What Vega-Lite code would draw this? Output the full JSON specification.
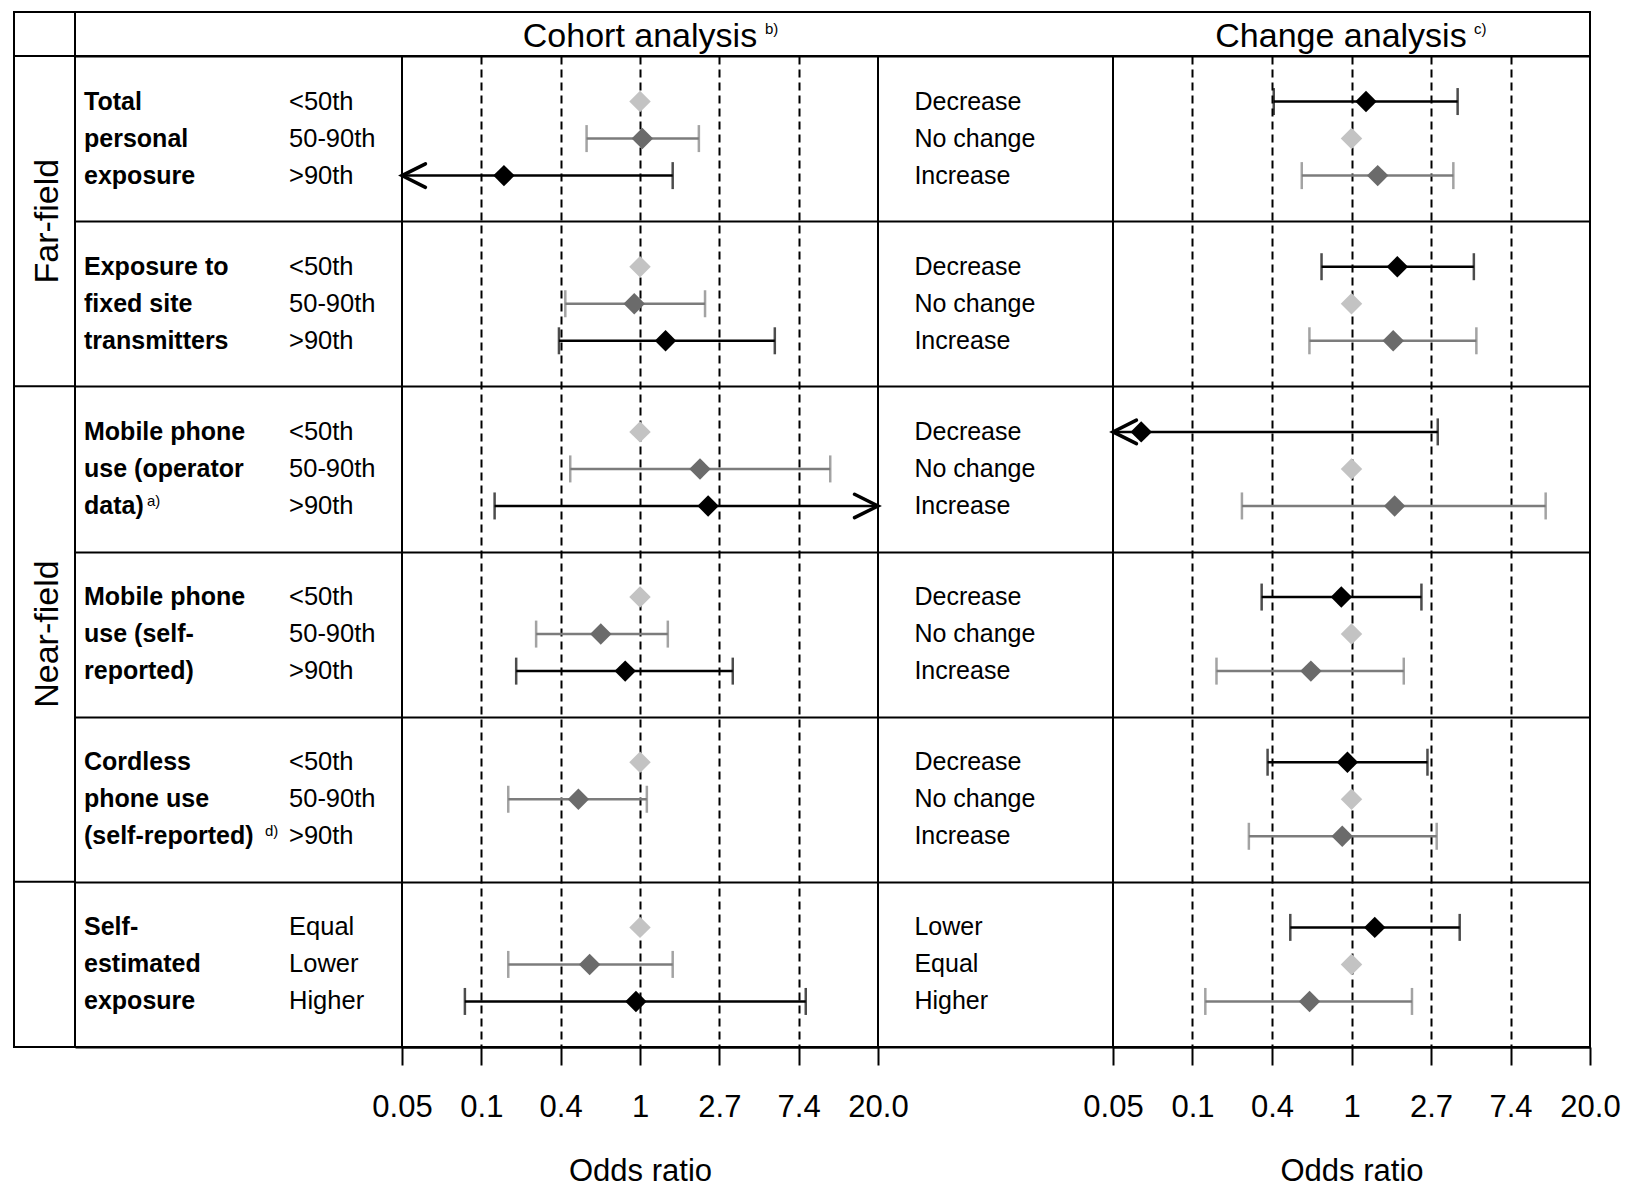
{
  "$schema": "https://vega.github.io/schema/vega-lite/v6.json",
  "background": "white",
  "padding": {"left": 12, "top": 10, "right": 0, "bottom": 0},
  "bounds": "flush",
  "spacing": 0,
  "config": {
    "view": {"stroke": "black", "strokeWidth": 2},
    "font": "Liberation Sans",
    "text": {"font": "Liberation Sans", "color": "black"},
    "axis": {"labelFont": "Liberation Sans", "titleFont": "Liberation Sans"},
    "concat": {"spacing": 0}
  },
  "datasets": {
    "names": [
      {"exposure": "Total personal exposure", "pos": 1, "text": "Total"},
      {"exposure": "Total personal exposure", "pos": 2, "text": "personal"},
      {"exposure": "Total personal exposure", "pos": 3, "text": "exposure"},
      {"exposure": "Exposure to fixed site transmitters", "pos": 1, "text": "Exposure to"},
      {"exposure": "Exposure to fixed site transmitters", "pos": 2, "text": "fixed site"},
      {"exposure": "Exposure to fixed site transmitters", "pos": 3, "text": "transmitters"},
      {"exposure": "Mobile phone use (operator data)", "pos": 1, "text": "Mobile phone"},
      {"exposure": "Mobile phone use (operator data)", "pos": 2, "text": "use (operator"},
      {"exposure": "Mobile phone use (operator data)", "pos": 3, "text": "data)", "sup": "a)"},
      {"exposure": "Mobile phone use (self-reported)", "pos": 1, "text": "Mobile phone"},
      {"exposure": "Mobile phone use (self-reported)", "pos": 2, "text": "use (self-"},
      {"exposure": "Mobile phone use (self-reported)", "pos": 3, "text": "reported)"},
      {"exposure": "Cordless phone use (self-reported)", "pos": 1, "text": "Cordless"},
      {"exposure": "Cordless phone use (self-reported)", "pos": 2, "text": "phone use"},
      {"exposure": "Cordless phone use (self-reported)", "pos": 3, "text": "(self-reported)", "sup": "d)"},
      {"exposure": "Self-estimated exposure", "pos": 1, "text": "Self-"},
      {"exposure": "Self-estimated exposure", "pos": 2, "text": "estimated"},
      {"exposure": "Self-estimated exposure", "pos": 3, "text": "exposure"}
    ],
    "cohort": [
      {"exposure": "Total personal exposure", "pos": 1, "category": "<50th", "group": "ref", "or": 1},
      {"exposure": "Total personal exposure", "pos": 2, "category": "50-90th", "group": "mid", "or": 1.03, "lo": 0.51, "hi": 2.1},
      {"exposure": "Total personal exposure", "pos": 3, "category": ">90th", "group": "high", "or": 0.18, "lo": 0.03, "hi": 1.51, "arrow": "left"},
      {"exposure": "Exposure to fixed site transmitters", "pos": 1, "category": "<50th", "group": "ref", "or": 1},
      {"exposure": "Exposure to fixed site transmitters", "pos": 2, "category": "50-90th", "group": "mid", "or": 0.93, "lo": 0.39, "hi": 2.27},
      {"exposure": "Exposure to fixed site transmitters", "pos": 3, "category": ">90th", "group": "high", "or": 1.38, "lo": 0.36, "hi": 5.47},
      {"exposure": "Mobile phone use (operator data)", "pos": 1, "category": "<50th", "group": "ref", "or": 1},
      {"exposure": "Mobile phone use (operator data)", "pos": 2, "category": "50-90th", "group": "mid", "or": 2.13, "lo": 0.415, "hi": 11.0},
      {"exposure": "Mobile phone use (operator data)", "pos": 3, "category": ">90th", "group": "high", "or": 2.36, "lo": 0.16, "hi": 30, "arrow": "right"},
      {"exposure": "Mobile phone use (self-reported)", "pos": 1, "category": "<50th", "group": "ref", "or": 1},
      {"exposure": "Mobile phone use (self-reported)", "pos": 2, "category": "50-90th", "group": "mid", "or": 0.61, "lo": 0.27, "hi": 1.42},
      {"exposure": "Mobile phone use (self-reported)", "pos": 3, "category": ">90th", "group": "high", "or": 0.83, "lo": 0.21, "hi": 3.22},
      {"exposure": "Cordless phone use (self-reported)", "pos": 1, "category": "<50th", "group": "ref", "or": 1},
      {"exposure": "Cordless phone use (self-reported)", "pos": 2, "category": "50-90th", "group": "mid", "or": 0.46, "lo": 0.19, "hi": 1.09},
      {"exposure": "Cordless phone use (self-reported)", "pos": 3, "category": ">90th", "group": "high"},
      {"exposure": "Self-estimated exposure", "pos": 1, "category": "Equal", "group": "ref", "or": 1},
      {"exposure": "Self-estimated exposure", "pos": 2, "category": "Lower", "group": "mid", "or": 0.53, "lo": 0.19, "hi": 1.51},
      {"exposure": "Self-estimated exposure", "pos": 3, "category": "Higher", "group": "high", "or": 0.95, "lo": 0.11, "hi": 8.08}
    ],
    "change": [
      {"exposure": "Total personal exposure", "pos": 1, "category": "Decrease", "group": "high", "or": 1.2, "lo": 0.376, "hi": 3.8},
      {"exposure": "Total personal exposure", "pos": 2, "category": "No change", "group": "ref", "or": 1},
      {"exposure": "Total personal exposure", "pos": 3, "category": "Increase", "group": "mid", "or": 1.39, "lo": 0.535, "hi": 3.6},
      {"exposure": "Exposure to fixed site transmitters", "pos": 1, "category": "Decrease", "group": "high", "or": 1.78, "lo": 0.686, "hi": 4.66},
      {"exposure": "Exposure to fixed site transmitters", "pos": 2, "category": "No change", "group": "ref", "or": 1},
      {"exposure": "Exposure to fixed site transmitters", "pos": 3, "category": "Increase", "group": "mid", "or": 1.69, "lo": 0.589, "hi": 4.81},
      {"exposure": "Mobile phone use (operator data)", "pos": 1, "category": "Decrease", "group": "high", "or": 0.071, "lo": 0.03, "hi": 2.96, "arrow": "left"},
      {"exposure": "Mobile phone use (operator data)", "pos": 2, "category": "No change", "group": "ref", "or": 1},
      {"exposure": "Mobile phone use (operator data)", "pos": 3, "category": "Increase", "group": "mid", "or": 1.72, "lo": 0.252, "hi": 11.5},
      {"exposure": "Mobile phone use (self-reported)", "pos": 1, "category": "Decrease", "group": "high", "or": 0.88, "lo": 0.323, "hi": 2.41},
      {"exposure": "Mobile phone use (self-reported)", "pos": 2, "category": "No change", "group": "ref", "or": 1},
      {"exposure": "Mobile phone use (self-reported)", "pos": 3, "category": "Increase", "group": "mid", "or": 0.6, "lo": 0.183, "hi": 1.93},
      {"exposure": "Cordless phone use (self-reported)", "pos": 1, "category": "Decrease", "group": "high", "or": 0.95, "lo": 0.348, "hi": 2.6},
      {"exposure": "Cordless phone use (self-reported)", "pos": 2, "category": "No change", "group": "ref", "or": 1},
      {"exposure": "Cordless phone use (self-reported)", "pos": 3, "category": "Increase", "group": "mid", "or": 0.89, "lo": 0.275, "hi": 2.92},
      {"exposure": "Self-estimated exposure", "pos": 1, "category": "Lower", "group": "high", "or": 1.34, "lo": 0.463, "hi": 3.9},
      {"exposure": "Self-estimated exposure", "pos": 2, "category": "Equal", "group": "ref", "or": 1},
      {"exposure": "Self-estimated exposure", "pos": 3, "category": "Higher", "group": "mid", "or": 0.59, "lo": 0.159, "hi": 2.14}
    ]
  },
  "vconcat": [
    {
      "width": 1576, "height": 44,
      "resolve": {"scale": {"x": "independent"}},
      "layer": [
        {
          "data": {"values": [{"sep": "s"}]},
          "mark": {"type": "rule", "strokeWidth": 2, "color": "black"},
          "encoding": {"x": {"field": "sep", "type": "nominal", "scale": {"type": "point", "domain": ["s"], "padding": 0, "align": 0.0387}, "axis": null}}
        },
        {
          "data": {"values": [
            {"col": "cohort", "title": "Cohort analysis", "sup": "b)"},
            {"col": "change", "title": "Change analysis", "sup": "c)"}
          ]},
          "encoding": {"x": {"field": "col", "type": "nominal", "scale": {"type": "point", "domain": ["cohort", "change"], "padding": 0.6241, "align": 0.7154}, "axis": null}},
          "layer": [
            {"mark": {"type": "text", "fontSize": 34, "align": "center", "baseline": "middle", "dy": 3}, "encoding": {"text": {"field": "title"}}},
            {"transform": [{"filter": "datum.col == 'cohort'"}], "mark": {"type": "text", "fontSize": 15, "align": "left", "baseline": "middle", "dx": 125, "dy": -5}, "encoding": {"text": {"field": "sup"}}},
            {"transform": [{"filter": "datum.col == 'change'"}], "mark": {"type": "text", "fontSize": 15, "align": "left", "baseline": "middle", "dx": 133, "dy": -5}, "encoding": {"text": {"field": "sup"}}}
          ]
        }
      ]
    },
    {
      "spacing": 0,
      "bounds": "flush",
      "hconcat": [
        {
          "width": 61, "height": 991,
          "layer": [
            {
              "data": {"values": [{"exposure": "Exposure to fixed site transmitters", "label": "Far-field"}]},
              "mark": {"type": "text", "angle": 270, "fontSize": 34, "align": "center", "baseline": "middle", "dy": 3},
              "encoding": {
                "y": {"field": "exposure", "type": "nominal", "bandPosition": 0, "axis": null, "scale": {"type": "band", "domain": ["Total personal exposure", "Exposure to fixed site transmitters", "Mobile phone use (operator data)", "Mobile phone use (self-reported)", "Cordless phone use (self-reported)", "Self-estimated exposure"], "paddingInner": 0, "paddingOuter": 0}},
                "text": {"field": "label"}
              }
            },
            {
              "data": {"values": [{"exposure": "Mobile phone use (self-reported)", "label": "Near-field"}]},
              "mark": {"type": "text", "angle": 270, "fontSize": 34, "align": "center", "baseline": "middle", "dy": 3},
              "encoding": {
                "y": {"field": "exposure", "type": "nominal", "bandPosition": 0.5, "axis": null},
                "text": {"field": "label"}
              }
            },
            {
              "data": {"values": [{"exposure": "Mobile phone use (operator data)"}, {"exposure": "Self-estimated exposure"}]},
              "mark": {"type": "rule", "strokeWidth": 2, "color": "black"},
              "encoding": {"y": {"field": "exposure", "type": "nominal", "bandPosition": 0, "axis": null}}
            }
          ]
        },
        {
          "width": 327, "height": 991,
          "encoding": {
            "y": {"field": "exposure", "type": "nominal", "scale": {"type": "band", "domain": ["Total personal exposure", "Exposure to fixed site transmitters", "Mobile phone use (operator data)", "Mobile phone use (self-reported)", "Cordless phone use (self-reported)", "Self-estimated exposure"], "paddingInner": 0, "paddingOuter": 0}, "axis": {"grid": true, "tickBand": "extent", "labels": false, "ticks": false, "domain": false, "title": null, "gridColor": "black", "gridWidth": 2, "gridOpacity": 1}},
            "yOffset": {"field": "pos", "type": "ordinal", "scale": {"type": "band", "domain": [1, 2, 3], "paddingInner": 0, "paddingOuter": 0.73}}
          },
          "layer": [
            {
              "data": {"name": "names"},
              "mark": {"type": "text", "fontSize": 25, "fontWeight": "bold", "align": "left", "baseline": "middle"},
              "encoding": {
                "x": {"datum": "name", "type": "nominal", "scale": {"type": "point", "domain": ["name", "cat"], "padding": 0.2976, "align": 0.074}, "axis": null},
                "text": {"field": "text"}
              }
            },
            {
              "data": {"name": "names"},
              "transform": [{"filter": "datum.sup == 'a)'"}],
              "mark": {"type": "text", "fontSize": 15, "align": "left", "baseline": "middle", "dx": 63, "dy": -5},
              "encoding": {
                "x": {"datum": "name", "type": "nominal", "axis": null},
                "text": {"field": "sup"}
              }
            },
            {
              "data": {"name": "names"},
              "transform": [{"filter": "datum.sup == 'd)'"}],
              "mark": {"type": "text", "fontSize": 15, "align": "left", "baseline": "middle", "dx": 181, "dy": -5},
              "encoding": {
                "x": {"datum": "name", "type": "nominal", "axis": null},
                "text": {"field": "sup"}
              }
            },
            {
              "data": {"name": "cohort"},
              "mark": {"type": "text", "fontSize": 25.5, "align": "left", "baseline": "middle"},
              "encoding": {
                "x": {"datum": "cat", "type": "nominal", "axis": null},
                "text": {"field": "category"}
              }
            }
          ]
        },
        {
          "width": 476, "height": 991,
          "resolve": {"scale": {"x": "independent"}, "axis": {"x": "independent"}},
          "layer": [
            {
              "data": {"name": "cohort"},
              "encoding": {
                "y": {"field": "exposure", "type": "nominal", "scale": {"type": "band", "domain": ["Total personal exposure", "Exposure to fixed site transmitters", "Mobile phone use (operator data)", "Mobile phone use (self-reported)", "Cordless phone use (self-reported)", "Self-estimated exposure"], "paddingInner": 0, "paddingOuter": 0}, "axis": {"grid": true, "tickBand": "extent", "labels": false, "ticks": false, "domain": false, "title": null, "gridColor": "black", "gridWidth": 2, "gridOpacity": 1}},
                "yOffset": {"field": "pos", "type": "ordinal", "scale": {"type": "band", "domain": [1, 2, 3], "paddingInner": 0, "paddingOuter": 0.73}}
              },
              "layer": [
                {
                  "transform": [{"filter": "datum.lo != null"}],
                  "mark": {"type": "rule", "strokeWidth": 2.5},
                  "encoding": {
                    "x": {"field": "lo", "type": "quantitative", "scale": {"type": "log", "domain": [0.049787, 20.085537], "nice": false, "clamp": true}, "axis": {"orient": "top", "values": [0.135335, 0.367879, 1, 2.718282, 7.389056], "grid": true, "gridDash": [8, 5], "gridColor": "black", "gridWidth": 2, "gridOpacity": 1, "labels": false, "ticks": false, "domain": false, "title": null}},
                    "x2": {"field": "hi"},
                    "color": {"field": "group", "type": "nominal", "scale": {"domain": ["mid", "high"], "range": ["#7c7c7c", "#000000"]}, "legend": null}
                  }
                },
                {
                  "transform": [{"filter": "datum.lo != null && datum.arrow != 'left'"}],
                  "mark": {"type": "tick", "orient": "vertical", "size": 27, "thickness": 2.5},
                  "encoding": {
                    "x": {"field": "lo", "type": "quantitative", "axis": {"orient": "top", "values": [0.135335, 0.367879, 1, 2.718282, 7.389056], "grid": true, "gridDash": [8, 5], "gridColor": "black", "gridWidth": 2, "gridOpacity": 1, "labels": false, "ticks": false, "domain": false, "title": null}},
                    "color": {"field": "group", "type": "nominal", "legend": null}
                  }
                },
                {
                  "transform": [{"filter": "datum.hi != null && datum.arrow != 'right'"}],
                  "mark": {"type": "tick", "orient": "vertical", "size": 27, "thickness": 2.5},
                  "encoding": {
                    "x": {"field": "hi", "type": "quantitative", "axis": {"orient": "top", "values": [0.135335, 0.367879, 1, 2.718282, 7.389056], "grid": true, "gridDash": [8, 5], "gridColor": "black", "gridWidth": 2, "gridOpacity": 1, "labels": false, "ticks": false, "domain": false, "title": null}},
                    "color": {"field": "group", "type": "nominal", "legend": null}
                  }
                },
                {
                  "transform": [{"filter": "datum.arrow == 'left'"}],
                  "mark": {"type": "point", "shape": "M1,-0.5L0,0L1,0.5", "size": 2200, "filled": false, "stroke": "black", "strokeWidth": 3.5, "strokeJoin": "miter", "strokeCap": "round", "opacity": 1},
                  "encoding": {
                    "x": {"field": "lo", "type": "quantitative", "axis": {"orient": "top", "values": [0.135335, 0.367879, 1, 2.718282, 7.389056], "grid": true, "gridDash": [8, 5], "gridColor": "black", "gridWidth": 2, "gridOpacity": 1, "labels": false, "ticks": false, "domain": false, "title": null}}
                  }
                },
                {
                  "transform": [{"filter": "datum.arrow == 'right'"}],
                  "mark": {"type": "point", "shape": "M-1,-0.5L0,0L-1,0.5", "size": 2200, "filled": false, "stroke": "black", "strokeWidth": 3.5, "strokeJoin": "miter", "strokeCap": "round", "opacity": 1},
                  "encoding": {
                    "x": {"field": "hi", "type": "quantitative", "axis": {"orient": "top", "values": [0.135335, 0.367879, 1, 2.718282, 7.389056], "grid": true, "gridDash": [8, 5], "gridColor": "black", "gridWidth": 2, "gridOpacity": 1, "labels": false, "ticks": false, "domain": false, "title": null}}
                  }
                },
                {
                  "transform": [{"filter": "datum.or != null"}],
                  "mark": {"type": "point", "shape": "diamond", "size": 460, "filled": true, "opacity": 1, "strokeWidth": 0},
                  "encoding": {
                    "x": {"field": "or", "type": "quantitative", "axis": {"orient": "top", "values": [0.135335, 0.367879, 1, 2.718282, 7.389056], "grid": true, "gridDash": [8, 5], "gridColor": "black", "gridWidth": 2, "gridOpacity": 1, "labels": false, "ticks": false, "domain": false, "title": null}},
                    "fill": {"field": "group", "type": "nominal", "scale": {"domain": ["ref", "mid", "high"], "range": ["#c3c3c3", "#6b6b6b", "#000000"]}, "legend": null}
                  }
                }
              ]
            },
            {
              "data": {"values": [{"v": 1}]},
              "mark": {"type": "point", "opacity": 0},
              "encoding": {
                "x": {"field": "v", "type": "quantitative", "scale": {"type": "log", "domain": [0.049787, 20.085537], "nice": false}, "axis": {"orient": "bottom", "values": [0.049787, 0.135335, 0.367879, 1, 2.718282, 7.389056, 20.085537], "labelExpr": "datum.value < 0.06 ? '0.05' : datum.value < 0.2 ? '0.1' : datum.value < 0.5 ? '0.4' : datum.value < 1.5 ? '1' : datum.value < 3 ? '2.7' : datum.value < 8 ? '7.4' : '20.0'", "tickSize": 18, "tickWidth": 2, "tickColor": "black", "domainColor": "black", "domainWidth": 2, "labelFontSize": 31, "labelColor": "black", "labelPadding": 27, "labelOverlap": false, "labelFlush": false, "labelBound": false, "grid": false, "title": "Odds ratio", "titleFontSize": 31, "titleFontWeight": "normal", "titleColor": "black", "titlePadding": 34}}
              }
            }
          ]
        },
        {
          "width": 235, "height": 991,
          "data": {"name": "change"},
          "mark": {"type": "text", "fontSize": 25, "align": "left", "baseline": "middle"},
          "encoding": {
            "x": {"datum": "c", "type": "nominal", "scale": {"type": "point", "domain": ["c"], "padding": 0, "align": 0.155}, "axis": null},
            "y": {"field": "exposure", "type": "nominal", "scale": {"type": "band", "domain": ["Total personal exposure", "Exposure to fixed site transmitters", "Mobile phone use (operator data)", "Mobile phone use (self-reported)", "Cordless phone use (self-reported)", "Self-estimated exposure"], "paddingInner": 0, "paddingOuter": 0}, "axis": {"grid": true, "tickBand": "extent", "labels": false, "ticks": false, "domain": false, "title": null, "gridColor": "black", "gridWidth": 2, "gridOpacity": 1}},
            "yOffset": {"field": "pos", "type": "ordinal", "scale": {"type": "band", "domain": [1, 2, 3], "paddingInner": 0, "paddingOuter": 0.73}},
            "text": {"field": "category"}
          }
        },
        {
          "width": 477, "height": 991,
          "resolve": {"scale": {"x": "independent"}, "axis": {"x": "independent"}},
          "layer": [
            {
              "data": {"name": "change"},
              "encoding": {
                "y": {"field": "exposure", "type": "nominal", "scale": {"type": "band", "domain": ["Total personal exposure", "Exposure to fixed site transmitters", "Mobile phone use (operator data)", "Mobile phone use (self-reported)", "Cordless phone use (self-reported)", "Self-estimated exposure"], "paddingInner": 0, "paddingOuter": 0}, "axis": {"grid": true, "tickBand": "extent", "labels": false, "ticks": false, "domain": false, "title": null, "gridColor": "black", "gridWidth": 2, "gridOpacity": 1}},
                "yOffset": {"field": "pos", "type": "ordinal", "scale": {"type": "band", "domain": [1, 2, 3], "paddingInner": 0, "paddingOuter": 0.73}}
              },
              "layer": [
                {
                  "transform": [{"filter": "datum.lo != null"}],
                  "mark": {"type": "rule", "strokeWidth": 2.5},
                  "encoding": {
                    "x": {"field": "lo", "type": "quantitative", "scale": {"type": "log", "domain": [0.049787, 20.085537], "nice": false, "clamp": true}, "axis": {"orient": "top", "values": [0.135335, 0.367879, 1, 2.718282, 7.389056], "grid": true, "gridDash": [8, 5], "gridColor": "black", "gridWidth": 2, "gridOpacity": 1, "labels": false, "ticks": false, "domain": false, "title": null}},
                    "x2": {"field": "hi"},
                    "color": {"field": "group", "type": "nominal", "scale": {"domain": ["mid", "high"], "range": ["#7c7c7c", "#000000"]}, "legend": null}
                  }
                },
                {
                  "transform": [{"filter": "datum.lo != null && datum.arrow != 'left'"}],
                  "mark": {"type": "tick", "orient": "vertical", "size": 27, "thickness": 2.5},
                  "encoding": {
                    "x": {"field": "lo", "type": "quantitative", "axis": {"orient": "top", "values": [0.135335, 0.367879, 1, 2.718282, 7.389056], "grid": true, "gridDash": [8, 5], "gridColor": "black", "gridWidth": 2, "gridOpacity": 1, "labels": false, "ticks": false, "domain": false, "title": null}},
                    "color": {"field": "group", "type": "nominal", "legend": null}
                  }
                },
                {
                  "transform": [{"filter": "datum.hi != null && datum.arrow != 'right'"}],
                  "mark": {"type": "tick", "orient": "vertical", "size": 27, "thickness": 2.5},
                  "encoding": {
                    "x": {"field": "hi", "type": "quantitative", "axis": {"orient": "top", "values": [0.135335, 0.367879, 1, 2.718282, 7.389056], "grid": true, "gridDash": [8, 5], "gridColor": "black", "gridWidth": 2, "gridOpacity": 1, "labels": false, "ticks": false, "domain": false, "title": null}},
                    "color": {"field": "group", "type": "nominal", "legend": null}
                  }
                },
                {
                  "transform": [{"filter": "datum.arrow == 'left'"}],
                  "mark": {"type": "point", "shape": "M1,-0.5L0,0L1,0.5", "size": 2200, "filled": false, "stroke": "black", "strokeWidth": 3.5, "strokeJoin": "miter", "strokeCap": "round", "opacity": 1},
                  "encoding": {
                    "x": {"field": "lo", "type": "quantitative", "axis": {"orient": "top", "values": [0.135335, 0.367879, 1, 2.718282, 7.389056], "grid": true, "gridDash": [8, 5], "gridColor": "black", "gridWidth": 2, "gridOpacity": 1, "labels": false, "ticks": false, "domain": false, "title": null}}
                  }
                },
                {
                  "transform": [{"filter": "datum.or != null"}],
                  "mark": {"type": "point", "shape": "diamond", "size": 460, "filled": true, "opacity": 1, "strokeWidth": 0},
                  "encoding": {
                    "x": {"field": "or", "type": "quantitative", "axis": {"orient": "top", "values": [0.135335, 0.367879, 1, 2.718282, 7.389056], "grid": true, "gridDash": [8, 5], "gridColor": "black", "gridWidth": 2, "gridOpacity": 1, "labels": false, "ticks": false, "domain": false, "title": null}},
                    "fill": {"field": "group", "type": "nominal", "scale": {"domain": ["ref", "mid", "high"], "range": ["#c3c3c3", "#6b6b6b", "#000000"]}, "legend": null}
                  }
                }
              ]
            },
            {
              "data": {"values": [{"v": 1}]},
              "mark": {"type": "point", "opacity": 0},
              "encoding": {
                "x": {"field": "v", "type": "quantitative", "scale": {"type": "log", "domain": [0.049787, 20.085537], "nice": false}, "axis": {"orient": "bottom", "values": [0.049787, 0.135335, 0.367879, 1, 2.718282, 7.389056, 20.085537], "labelExpr": "datum.value < 0.06 ? '0.05' : datum.value < 0.2 ? '0.1' : datum.value < 0.5 ? '0.4' : datum.value < 1.5 ? '1' : datum.value < 3 ? '2.7' : datum.value < 8 ? '7.4' : '20.0'", "tickSize": 18, "tickWidth": 2, "tickColor": "black", "domainColor": "black", "domainWidth": 2, "labelFontSize": 31, "labelColor": "black", "labelPadding": 27, "labelOverlap": false, "labelFlush": false, "labelBound": false, "grid": false, "title": "Odds ratio", "titleFontSize": 31, "titleFontWeight": "normal", "titleColor": "black", "titlePadding": 34}}
              }
            }
          ]
        }
      ]
    }
  ]
}
